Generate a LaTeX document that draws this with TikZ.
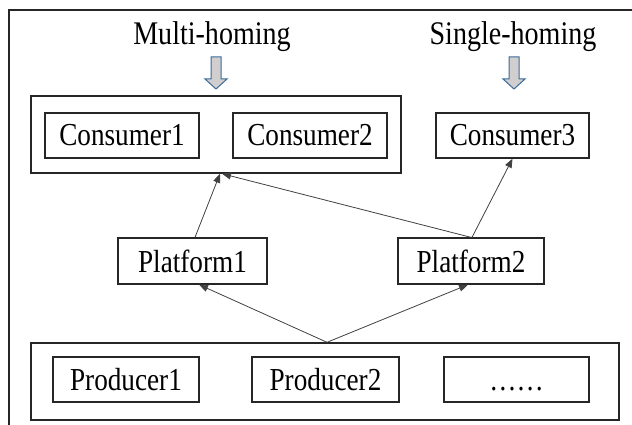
\documentclass[tikz,border=0pt]{standalone}
\usepackage{fontspec}
\setmainfont{Liberation Serif}[FakeStretch=0.85]
\usetikzlibrary{arrows.meta}
\definecolor{arrowfill}{HTML}{D0CECE}
\definecolor{arrowedge}{HTML}{3C6A9A}
\tikzset{
  box/.style={draw=black!85, line width=1.3pt, rectangle, inner sep=0pt,
              minimum height=45pt, font=\fontsize{32}{34}\selectfont},
  groupbox/.style={draw=black!85, line width=1.4pt, rectangle, inner sep=0pt,
                   minimum height=77pt},
  heading/.style={font=\fontsize{33}{35}\selectfont, inner sep=0pt},
  link/.style={draw=black!75, line width=0.8pt,
               -{Triangle[length=9pt,width=7pt]}},
  blockarrow/.style={fill=arrowfill, draw=arrowedge, line width=1pt,
                     line join=miter}
}
\begin{document}
\begin{tikzpicture}[x=1pt,y=-1pt]
  \useasboundingbox (0,0) rectangle (632,425);
  % open frame along the left and top edges
  \draw[black!85, line width=1.5pt] (9,425) -- (9,10) -- (632,10);

  % headings with their block arrows
  \node[heading] (multi) at (212,37) {Multi-homing};
  \node[heading] (single) at (513,37) {Single-homing};
  \draw[blockarrow] (211,57) -- (221,57) -- (221,79) -- (227,79) -- (216,89)
        -- (205,79) -- (211,79) -- cycle;
  \draw[blockarrow] (509,57) -- (519,57) -- (519,79) -- (525,79) -- (514,89)
        -- (503,79) -- (509,79) -- cycle;

  % consumers
  \node[groupbox, minimum width=370pt] (cgroup) at (216,134.5) {};
  \node[box, minimum width=154pt] (c1) at (122,135.5) {Consumer1};
  \node[box, minimum width=154pt] (c2) at (310,135.5) {Consumer2};
  \node[box, minimum width=153pt] (c3) at (512.5,135.5) {Consumer3};

  % platforms
  \node[box, minimum width=149pt, minimum height=46pt] (p1) at (192.5,261) {Platform1};
  \node[box, minimum width=146pt, minimum height=46pt] (p2) at (471,261) {Platform2};

  % producers
  \node[groupbox, minimum width=588pt] (pgroup) at (325,381.5) {};
  \node[box, minimum width=146pt] (r1) at (126,379.5) {Producer1};
  \node[box, minimum width=147pt] (r2) at (325.5,379.5) {Producer2};
  \node[box, minimum width=145pt] (r3) at (516.5,379.5) {\vphantom{Producer1}……};

  % connectors
  \draw[link] ([xshift=2pt]pgroup.north) -- ([xshift=6.5pt]p1.south);
  \draw[link] ([xshift=2pt]pgroup.north) -- ([xshift=-3pt]p2.south);
  \draw[link] ([xshift=2.5pt]p1.north) -- ([xshift=4pt]cgroup.south);
  \draw[link] (p2.north) -- ([xshift=6pt]cgroup.south);
  \draw[link] ([xshift=1pt]p2.north) -- (c3.south);
\end{tikzpicture}
\end{document}
